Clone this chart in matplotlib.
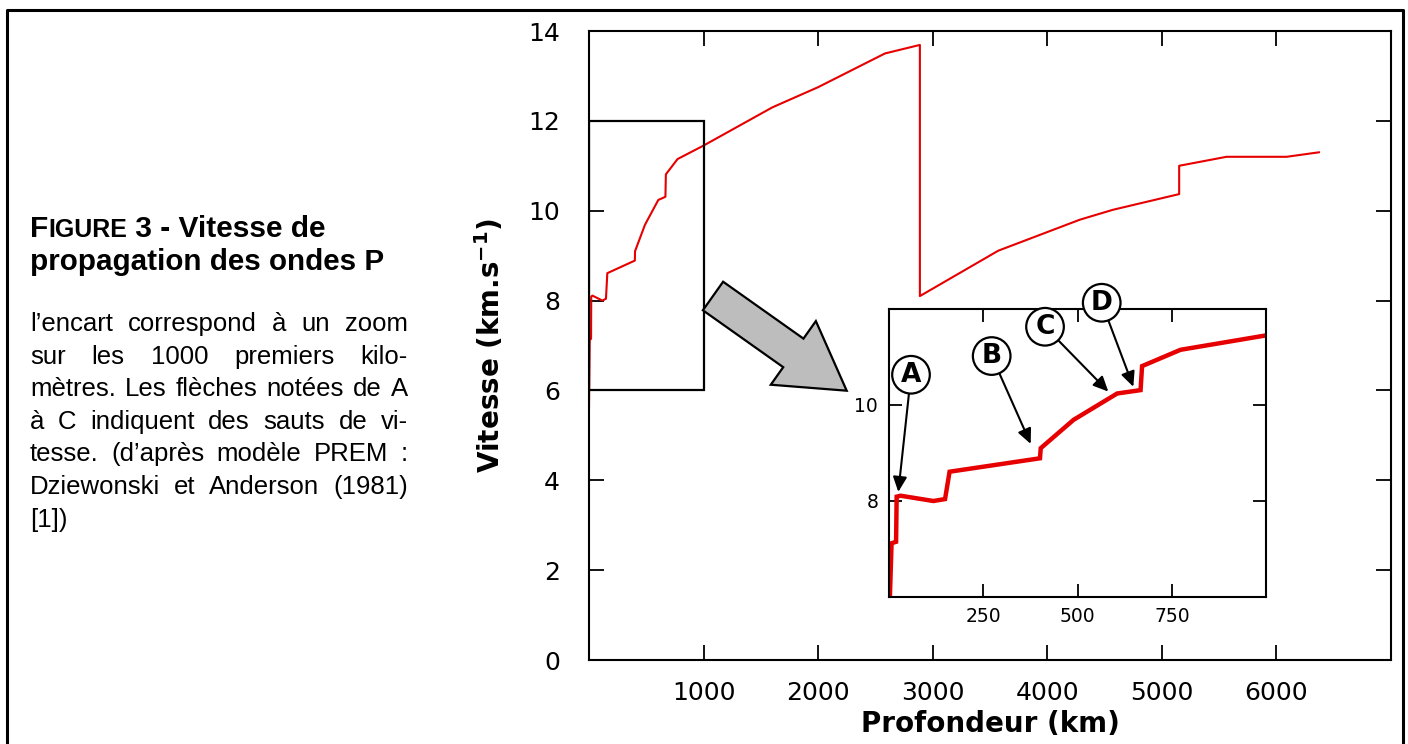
import matplotlib
matplotlib.use("Agg")
import matplotlib.pyplot as plt
import matplotlib.transforms as mtransforms
from matplotlib.patches import Rectangle, FancyArrow
from matplotlib.lines import Line2D

# Vitesse des ondes P (modele PREM)
depth_km = [0, 6, 18, 19.5, 30, 117, 148, 160, 400, 402, 489, 605, 667, 671,
            773, 1000, 1600, 2000, 2583, 2888, 2888, 3572, 4284, 4572, 5151,
            5151, 5564, 6088, 6371]
vp_kms = [5.6, 7.12, 7.15, 8.09, 8.11, 8.0, 8.04, 8.61, 8.89, 9.10, 9.69,
          10.24, 10.31, 10.81, 11.15, 11.45, 12.3, 12.75, 13.5, 13.69, 8.10,
          9.11, 9.8, 10.02, 10.37, 11.0, 11.2, 11.2, 11.3]

main_xticks = [1000, 2000, 3000, 4000, 5000, 6000]
main_yticks = [0, 2, 4, 6, 8, 10, 12, 14]
zoom_xticks = [250, 500, 750]
zoom_yticks = [6, 8, 10]
zoom_ylabels = ["", "8", "10"]

# sauts de vitesse : lettre, position de la bulle, pointe de la fleche
jump_letters = ["A", "B", "C", "D"]
jump_label_xy = [(57.6, 10.63), (271.8, 11.02), (413.4, 11.63), (563.9, 12.13)]
jump_tip_xy = [(23.9, 8.19), (375.4, 9.19), (581.4, 10.28), (647.8, 10.38)]

heading_2 = "propagation des ondes P"
body_lines = [
    "l\u2019encart correspond à un zoom",
    "sur les 1000 premiers kilo-",
    "mètres. Les flèches notées de A",
    "à C indiquent des sauts de vi-",
    "tesse. (d\u2019après modèle PREM :",
    "Dziewonski et Anderson (1981)",
    "[1])",
]

RED = "#e60000"
W, H = 1408, 744

fig = plt.figure(figsize=(W / 100, H / 100), dpi=100)
# coordonnees en pixels de l'image (origine en haut a gauche)
pix = mtransforms.Affine2D().scale(1, -1).translate(0, H)
renderer = fig.canvas.get_renderer()

# --- graphique principal ---
ax = fig.add_axes([589 / W, 1 - 660 / H, (1391 - 589) / W, (660 - 31) / H])
ax.plot(depth_km, vp_kms, color=RED, lw=1.5)
ax.add_patch(Rectangle((0, 6), 1000, 6, fill=False, ec="black", lw=1.6, zorder=3))
ax.set_xlim(0, 7000)
ax.set_ylim(0, 14)
ax.set_xticks(main_xticks)
ax.set_yticks(main_yticks)
ax.tick_params(direction="in", length=11, width=1.3, top=True, right=True,
               labelsize=18)
ax.tick_params(axis="x", pad=15)
ax.tick_params(axis="y", pad=21)
for sp in ax.spines.values():
    sp.set_linewidth(1.5)
ax.set_xlabel("Profondeur (km)", fontsize=20, fontweight="bold")
ax.set_ylabel(r"Vitesse (km.s$^{\mathbf{-1}}$)", fontsize=20, fontweight="bold")
ax.xaxis.set_label_coords(0.5, -0.08)
ax.yaxis.set_label_coords(-0.103, 0.5)

# --- encart (1000 premiers km) ---
axi = fig.add_axes([889.3 / W, 1 - 597 / H, (1266 - 889.3) / W, (597 - 309) / H])
axi.set_facecolor("white")
axi.plot(depth_km, vp_kms, color=RED, lw=3.2, solid_joinstyle="miter")
axi.set_xlim(0, 1000)
axi.set_ylim(6, 12)
axi.set_xticks(zoom_xticks)
axi.set_yticks(zoom_yticks)
axi.set_yticklabels(zoom_ylabels)
axi.tick_params(direction="in", length=9.5, width=1.3, top=True, right=True,
                labelsize=13.5)
axi.tick_params(axis="x", pad=7)
axi.tick_params(axis="y", pad=8)
for sp in axi.spines.values():
    sp.set_linewidth(1.5)

for letter, lxy, txy in zip(jump_letters, jump_label_xy, jump_tip_xy):
    axi.annotate(letter, xy=txy, xytext=lxy, ha="center", va="center",
                 fontsize=19, fontweight="bold", annotation_clip=False,
                 bbox=dict(boxstyle="circle,pad=0.22", fc="white", ec="black", lw=1.6),
                 arrowprops=dict(arrowstyle="-|>,head_length=0.6,head_width=0.28",
                                 color="black", lw=1.5, shrinkA=0, shrinkB=0,
                                 mutation_scale=15))

# grosse fleche grise vers l'encart
fig.add_artist(FancyArrow(713, 296, 133.7, 94.7, width=35, head_width=78,
                          head_length=65.4, length_includes_head=True,
                          fc="#bdbdbd", ec="black", lw=1.6, transform=pix,
                          zorder=5))

# cadre autour de la figure
fig.add_artist(Line2D([7, 7, 1403, 1403], [760, 10, 10, 760], color="black",
                      lw=2.2, transform=pix))

# --- texte de gauche ---
TXT = "Liberation Sans"
x0, x1 = 30, 408


def put(x, y, s, size, weight="normal"):
    t = fig.text(x, y, s, fontsize=size, fontweight=weight, family=TXT,
                 va="baseline", ha="left", transform=pix)
    return t, t.get_window_extent(renderer).width


# "FIGURE" en petites capitales
x = x0
for s, size in [("F", 21.5), ("IGURE", 18), (" 3 - Vitesse de", 21.5)]:
    t, w = put(x, 237, s, size, "bold")
    x += w
put(x0, 270, heading_2, 21.3, "bold")

y = 331
for i, line in enumerate(body_lines):
    words = line.split(" ")
    if i == len(body_lines) - 1 or len(words) == 1:
        put(x0, y, line, 18.5)
    else:
        texts = [put(0, y, wd, 18.5) for wd in words]
        gap = (x1 - x0 - sum(w for _, w in texts)) / (len(words) - 1)
        x = x0
        for t, w in texts:
            t.set_x(x)
            x += w + gap
    y += 32.6

fig.savefig("out.png", dpi=100)
